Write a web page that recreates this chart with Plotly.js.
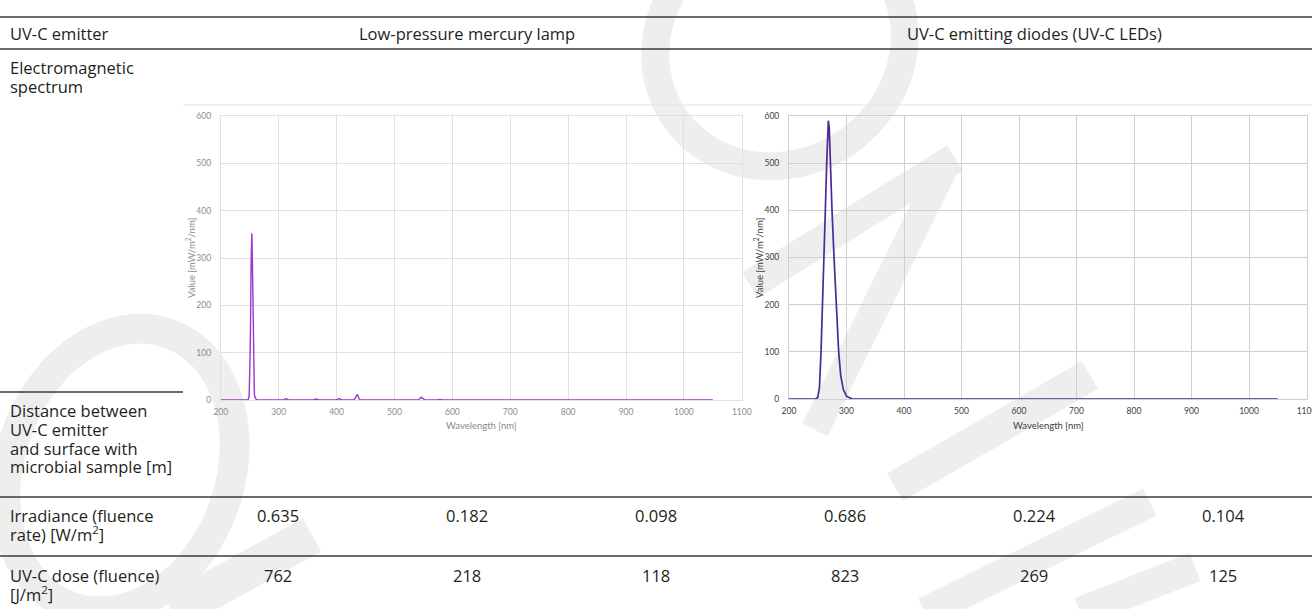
<!DOCTYPE html>
<html><head><meta charset="utf-8">
<script src="https://cdn.plot.ly/plotly-3.0.1.min.js"></script>
<style>html,body{margin:0;padding:0;background:#fff;overflow:hidden}#chart{width:1312px;height:609px}</style>
</head><body><div id="chart"></div>
<script>
// ---------- data ----------
const hgWavelength = [200, 247, 249, 251, 252.5, 253.7, 255, 256.5, 258, 260, 263, 308, 311, 313, 315, 318, 360, 363, 365, 367, 370, 400, 403, 405, 407, 410, 429, 432, 434, 435.8, 437.5, 439, 442, 540, 543, 546.1, 548, 550, 553, 574, 577, 579, 582, 1050];
const hgValue      = [0,   0,   8,   120, 300,   352,   260, 90,    12,  3,   0,   0,   1,   3,   1,   0,   0,   1,   2,   1,   0,   0,   1,   3,   1,   0,   0,   3,   8,   12,    7,     2,   0,   0,   2,   6,     4,   2,   0,   0,   1,   1,   0,   0];
const ledWavelength = [200, 246, 250, 253, 255.7, 258.6, 260.9, 263.2, 265.6, 268.4, 270, 271.8, 274.8, 278.3, 281.7, 286.4, 289.9, 294.5, 300, 310, 1050];
const ledValue      = [0,   0,   3,   25,  100,   200,   300,   400,   500,   590,   575, 500,   400,   300,   200,   100,   50,    20,    6,   0,   0];
const emitters = ["Low-pressure mercury lamp", "UV-C emitting diodes (UV-C LEDs)"];
const rowLabels = [
  ["UV-C emitter"],
  ["Electromagnetic", "spectrum"],
  ["Distance between", "UV-C emitter", "and surface with", "microbial sample [m]"],
  ["Irradiance (fluence", "rate) [W/m<sup>2</sup>]"],
  ["UV-C dose (fluence)", "[J/m<sup>2</sup>]"]
];
const irradiance = [0.635, 0.182, 0.098, 0.686, 0.224, 0.104];
const dose = [762, 218, 118, 823, 269, 125];
const yTickVals = [0, 100, 200, 300, 400, 500, 600];
const xTickVals = [200, 300, 400, 500, 600, 700, 800, 900, 1000, 1100];
const yTitle = "Value [mW/m<sup>2</sup>/nm]";
const xTitle = "Wavelength [nm]";

// ---------- helpers (pixel -> paper) ----------
const W = 1312, H = 609;
const px = x => x / W, py = y => 1 - y / H;
function ringPath(cx, cy, rx, ry, ang, t) {
  const a = ang * Math.PI / 180; let s = '';
  [[rx, ry, 1], [rx - t, ry - t, -1]].forEach(([Rx, Ry, d]) => {
    for (let i = 0; i <= 72; i++) {
      const th = d * i / 72 * 2 * Math.PI;
      const ex = Rx * Math.cos(th), ey = Ry * Math.sin(th);
      const X = cx + ex * Math.cos(a) - ey * Math.sin(a);
      const Y = cy + ex * Math.sin(a) + ey * Math.cos(a);
      s += (i ? 'L' : 'M') + px(X).toFixed(5) + ',' + py(Y).toFixed(5);
    }
    s += 'Z';
  });
  return s;
}
function bandPath(x1, y1, x2, y2, w) {
  const dx = x2 - x1, dy = y2 - y1, L = Math.hypot(dx, dy);
  const nx = -dy / L * w / 2, ny = dx / L * w / 2;
  const pts = [[x1 + nx, y1 + ny], [x2 + nx, y2 + ny], [x2 - nx, y2 - ny], [x1 - nx, y1 - ny]];
  return pts.map((p, i) => (i ? 'L' : 'M') + px(p[0]).toFixed(5) + ',' + py(p[1]).toFixed(5)).join('') + 'Z';
}

// ---------- shapes ----------
const shapes = [];
const wm = '#eeeeee';
[ringPath(120, 470, 125, 160, 20, 30), ringPath(780, 45, 142, 132, -35, 28)].forEach(p =>
  shapes.push({type: 'path', xref: 'paper', yref: 'paper', path: p, fillcolor: wm, fillrule: 'evenodd', line: {width: 0}, layer: 'below'}));
[[172, 612, 312, 535, 38], [750, 285, 955, 158, 30], [948, 160, 815, 430, 28], [895, 487, 1090, 375, 32],
 [925, 612, 1150, 502, 30], [1080, 612, 1195, 567, 30]].forEach(b =>
  shapes.push({type: 'path', xref: 'paper', yref: 'paper', path: bandPath(...b), fillcolor: wm, line: {width: 0}, layer: 'below'}));
function hline(y, x0, x1, color, w) {
  shapes.push({type: 'line', xref: 'paper', yref: 'paper', x0: px(x0), x1: px(x1), y0: py(y), y1: py(y), line: {color: color, width: w}});
}
const dark = '#3a3a3a';
hline(17, 0, W, dark, 1.3);
hline(49, 0, W, dark, 1.3);
hline(105, 183, W, '#e3e3e3', 1);
hline(392, 0, 183, dark, 1.3);
hline(497, 0, W, dark, 1.3);
hline(556, 0, W, dark, 1.3);

// ---------- annotations ----------
const tFont = {family: 'Open Sans, sans-serif', size: 16.5, color: '#231f20'};
const ann = [];
function txt(t, x, y, anchor, font, extra) {
  ann.push(Object.assign({text: t, xref: 'paper', yref: 'paper', x: px(x), y: py(y), xanchor: anchor, yanchor: 'middle', showarrow: false, font: font}, extra || {}));
}
const rowTop = [33, 68, 410, 515, 575];
const lineGap = 19;
rowLabels.forEach((lines, r) => lines.forEach((l, i) => txt(l, 8, rowTop[r] + i * lineGap, 'left', tFont)));
const emitterCenters = [467, 1034];
emitters.forEach((e, i) => txt(e, emitterCenters[i], 33, 'center', tFont));
const colCenters = [278, 467, 656, 845, 1034, 1223];
irradiance.forEach((v, i) => txt(v.toFixed(3), colCenters[i], 515, 'center', tFont));
dose.forEach((v, i) => txt(String(v), colCenters[i], 575, 'center', tFont));

const cFontL = {family: 'Lato, sans-serif', size: 8.5, color: '#8c8c8c'};
const cFontR = {family: 'Lato, sans-serif', size: 8.5, color: '#404040'};
const tFontL = {family: 'Lato, sans-serif', size: 9.5, color: '#8c8c8c'};
const tFontR = {family: 'Lato, sans-serif', size: 9.5, color: '#404040'};
txt(yTitle, 191, 258, 'center', tFontL, {textangle: -90});
txt(yTitle, 759, 258, 'center', tFontR, {textangle: -90});
txt(xTitle, 481, 425, 'center', tFontL);
txt(xTitle, 1048, 425, 'center', tFontR);

// ---------- traces ----------
const traces = [
  {x: hgWavelength, y: hgValue, type: 'scatter', mode: 'lines', line: {color: '#9a36c9', width: 1.4}, xaxis: 'x', yaxis: 'y', hoverinfo: 'skip'},
  {x: ledWavelength, y: ledValue, type: 'scatter', mode: 'lines', line: {color: '#4a2a96', width: 1.7}, xaxis: 'x2', yaxis: 'y2', hoverinfo: 'skip'}
];

function xax(domain, grid, font) {
  return {domain: domain, range: [199.99, 1100.01], tickvals: xTickVals, gridcolor: grid, gridwidth: 1, showline: true, mirror: true, linecolor: grid,
    zeroline: false, ticks: '', tickfont: font, ticklabelstandoff: 4, ticklabeloverflow: 'allow', fixedrange: true};
}
function yax(domain, grid, font, anchor) {
  return {domain: domain, range: [0, 600], tickvals: yTickVals, gridcolor: grid, gridwidth: 1, showline: true, mirror: true, linecolor: grid,
    zeroline: false, ticks: '', tickfont: font, ticklabelstandoff: 7, anchor: anchor, fixedrange: true};
}
const layout = {
  width: W, height: H, margin: {l: 0, r: 0, t: 0, b: 0},
  paper_bgcolor: '#ffffff', plot_bgcolor: 'rgba(0,0,0,0)', showlegend: false,
  xaxis: Object.assign(xax([px(220.8), px(741.8)], '#e0e0e0', cFontL), {anchor: 'y'}),
  yaxis: yax([py(400), py(116)], '#e0e0e0', cFontL, 'x'),
  xaxis2: Object.assign(xax([px(789), px(1306.5)], '#cfcfcf', cFontR), {anchor: 'y2'}),
  yaxis2: yax([py(399), py(116)], '#cfcfcf', cFontR, 'x2'),
  shapes: shapes, annotations: ann
};
Plotly.newPlot('chart', traces, layout, {staticPlot: true, displayModeBar: false});
</script></body></html>
